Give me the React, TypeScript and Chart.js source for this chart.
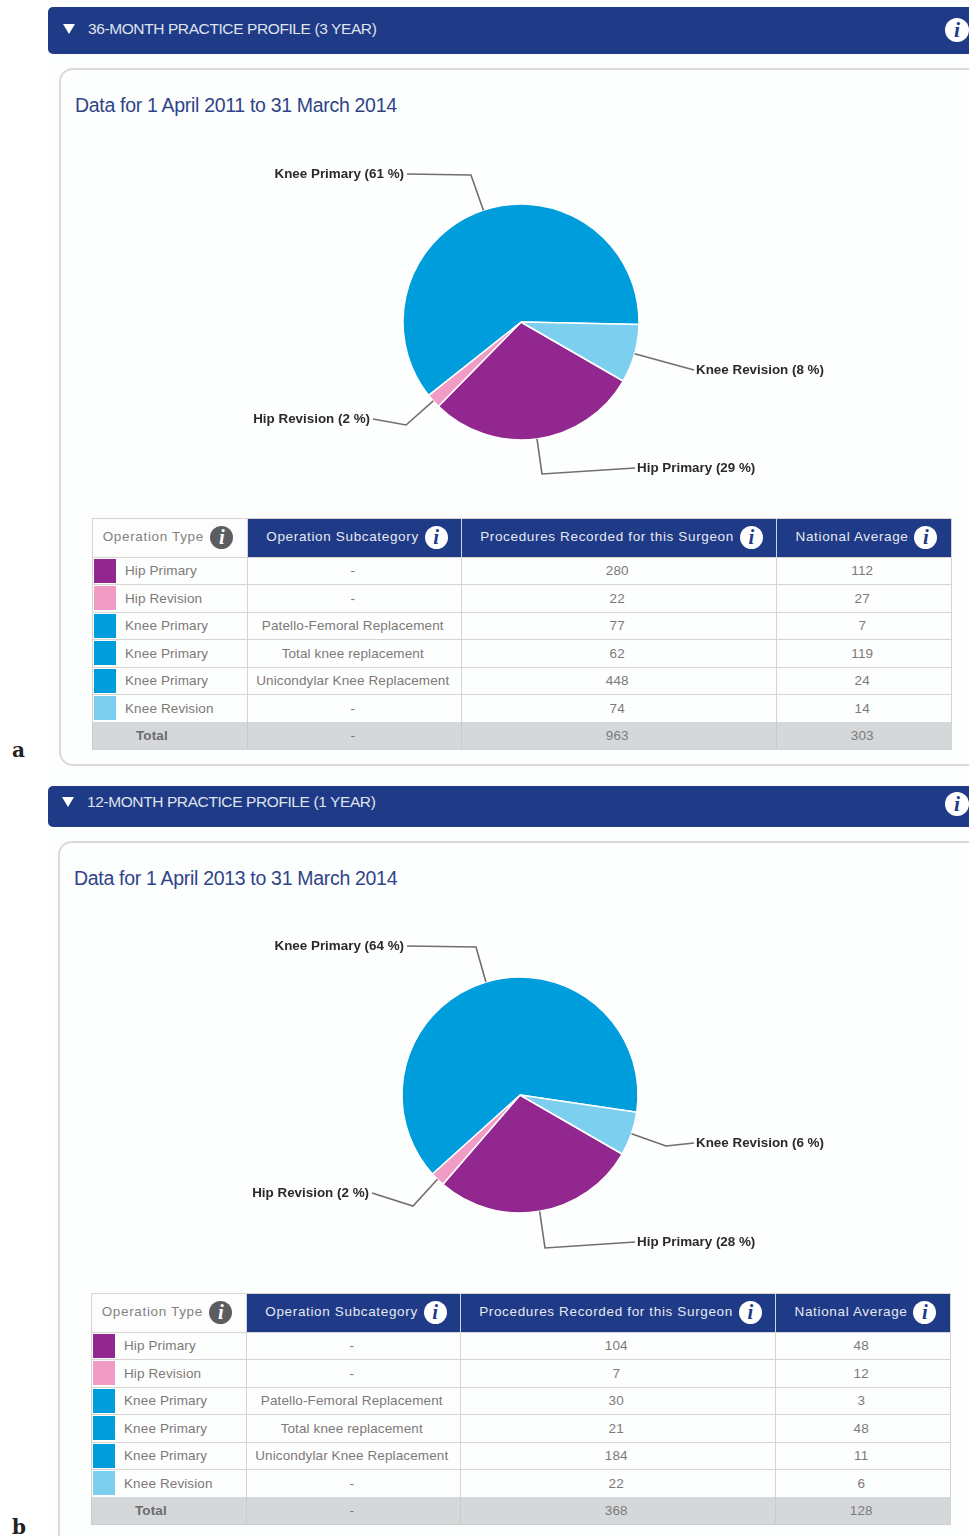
import React, { useEffect, useRef } from "react";
import { Chart, registerables } from "chart.js";

Chart.register(...registerables);

const pieLabels = ["Hip Primary", "Hip Revision", "Knee Primary", "Knee Revision"];
const pieColors = ["#92278f", "#f19cc4", "#009ddc", "#7ccfee"];
const pieValues36 = [29, 2, 61, 8];
const pieValues12 = [28, 2, 64, 6];

const rowTypes = ["Hip Primary", "Hip Revision", "Knee Primary", "Knee Primary", "Knee Primary", "Knee Revision"];
const rowColors = ["#92278f", "#f19cc4", "#009ddc", "#009ddc", "#009ddc", "#7ccfee"];
const rowSubcategories = ["-", "-", "Patello-Femoral Replacement", "Total knee replacement", "Unicondylar Knee Replacement", "-"];
const surgeon36 = [280, 22, 77, 62, 448, 74];
const national36 = [112, 27, 7, 119, 24, 14];
const surgeon12 = [104, 7, 30, 21, 184, 22];
const national12 = [48, 12, 3, 48, 11, 6];
const totals36 = [963, 303];
const totals12 = [368, 128];

const NAVY = "#1f3a86";
const TEXT = "#7d7977";
const LINE = "#d9d4d0";

type Leader = { elbow: [number, number] | null; end: [number, number]; align: "left" | "right" };

const leaders36: Leader[] = [
  { elbow: [21, 152], end: [114, 146], align: "left" },
  { elbow: [-115, 103], end: [-148, 97], align: "right" },
  { elbow: [-50, -147], end: [-114, -148], align: "right" },
  { elbow: null, end: [173, 48], align: "left" },
];
const leaders12: Leader[] = [
  { elbow: [25, 153], end: [115, 147], align: "left" },
  { elbow: [-107, 111], end: [-148, 98], align: "right" },
  { elbow: [-44, -148], end: [-113, -149], align: "right" },
  { elbow: [146, 51], end: [174, 48], align: "left" },
];

function Pie({ values, leaders, left, top }: { values: number[]; leaders: Leader[]; left: number; top: number }) {
  const ref = useRef<HTMLCanvasElement>(null);
  useEffect(() => {
    const leaderPlugin = {
      id: "leaders",
      afterDatasetsDraw(chart: any) {
        const ctx = chart.ctx;
        const arcs = chart.getDatasetMeta(0).data;
        ctx.save();
        arcs.forEach((arc: any, i: number) => {
          const l = leaders[i];
          const mid = (arc.startAngle + arc.endAngle) / 2;
          const cx = arc.x;
          const cy = arc.y;
          ctx.strokeStyle = "#736e6a";
          ctx.lineWidth = 1.6;
          ctx.beginPath();
          ctx.moveTo(cx + Math.cos(mid) * arc.outerRadius, cy + Math.sin(mid) * arc.outerRadius);
          if (l.elbow) ctx.lineTo(cx + l.elbow[0], cy + l.elbow[1]);
          ctx.lineTo(cx + l.end[0], cy + l.end[1]);
          ctx.stroke();
          ctx.fillStyle = "#2a2a2a";
          ctx.font = "bold 13.4px 'Liberation Sans'";
          ctx.textBaseline = "middle";
          ctx.textAlign = l.align;
          const tx = cx + l.end[0] + (l.align === "left" ? 2 : -3);
          ctx.fillText(`${pieLabels[i]} (${values[i]} %)`, tx, cy + l.end[1]);
        });
        ctx.restore();
      },
    };
    const chart = new Chart(ref.current as HTMLCanvasElement, {
      type: "pie",
      data: {
        labels: pieLabels,
        datasets: [
          {
            data: values,
            backgroundColor: pieColors,
            borderColor: "#ffffff",
            borderWidth: 1.5,
            radius: 118,
          },
        ],
      },
      options: {
        responsive: false,
        animation: false,
        rotation: 120,
        layout: { padding: 0 },
        plugins: { legend: { display: false }, tooltip: { enabled: false } },
      },
      plugins: [leaderPlugin],
    } as any);
    return () => chart.destroy();
  }, [values, leaders]);
  return <canvas ref={ref} width={640} height={360} style={{ position: "absolute", left, top, width: 640, height: 360 }} />;
}

function Info({ dark, size = 23, style }: { dark?: boolean; size?: number; style?: React.CSSProperties }) {
  return (
    <span
      style={{
        display: "inline-block",
        width: size,
        height: size,
        lineHeight: `${size}px`,
        borderRadius: "50%",
        background: dark ? "#5b5d60" : "#ffffff",
        color: dark ? "#ffffff" : NAVY,
        fontFamily: "'Liberation Serif'",
        fontWeight: "bold",
        fontStyle: "italic",
        fontSize: size * 0.9,
        letterSpacing: 0,
        textAlign: "center",
        verticalAlign: "middle",
        ...style,
      }}
    >
      i
    </span>
  );
}

const colWidths = [155, 214, 315, 175];

function DataTable({ left, top, surgeon, national, totals }: { left: number; top: number; surgeon: number[]; national: number[]; totals: number[] }) {
  const th: React.CSSProperties = {
    background: NAVY,
    color: "#e6e9f2",
    fontWeight: "normal",
    height: 37.5,
    padding: "0 0 0 5px",
    textAlign: "center",
    borderLeft: "1px solid #cfd4e2",
    whiteSpace: "nowrap",
    letterSpacing: 0.65,
    boxSizing: "border-box",
  };
  const td: React.CSSProperties = {
    height: 27.5,
    padding: "0 3.5px 0 0",
    textAlign: "center",
    borderTop: `1.5px solid ${LINE}`,
    borderLeft: `1.5px solid ${LINE}`,
    whiteSpace: "nowrap",
    boxSizing: "border-box",
  };
  const totalTd: React.CSSProperties = { ...td, background: "#d5d8da", borderLeft: "1px solid #c9cbcd", borderTop: "none" };
  return (
    <table
      style={{
        position: "absolute",
        left,
        top,
        width: 859,
        tableLayout: "fixed",
        borderCollapse: "separate",
        borderSpacing: 0,
        fontFamily: "'Liberation Sans'",
        fontSize: 13.5,
        letterSpacing: 0.12,
        color: TEXT,
        borderTop: `1.5px solid ${LINE}`,
        borderRight: `1.5px solid ${LINE}`,
        borderBottom: `1.5px solid #d0d0d0`,
        boxSizing: "border-box",
      }}
    >
      <colgroup>
        {colWidths.map((w, i) => (
          <col key={i} style={{ width: w }} />
        ))}
      </colgroup>
      <thead>
        <tr>
          <th style={{ ...th, background: "#fdfdfd", color: "#858180", borderLeft: `1.5px solid ${LINE}`, padding: "0 4px 0 0" }}>
            Operation Type <Info dark style={{ marginLeft: 2 }} />
          </th>
          <th style={th}>
            Operation Subcategory <Info style={{ marginLeft: 1.5 }} />
          </th>
          <th style={th}>
            Procedures Recorded for this Surgeon <Info style={{ marginLeft: 1.5 }} />
          </th>
          <th style={th}>
            National Average <Info style={{ marginLeft: 1.5 }} />
          </th>
        </tr>
      </thead>
      <tbody>
        {rowTypes.map((t, i) => (
          <tr key={i}>
            <td style={{ ...td, textAlign: "left", position: "relative", paddingLeft: 32 }}>
              <span style={{ position: "absolute", left: 1, top: 1, width: 22, height: 24, background: rowColors[i] }} />
              {t}
            </td>
            <td style={td}>{rowSubcategories[i]}</td>
            <td style={td}>{surgeon[i]}</td>
            <td style={td}>{national[i]}</td>
          </tr>
        ))}
        <tr>
          <td style={{ ...totalTd, textAlign: "left", paddingLeft: 43, fontWeight: "bold", color: "#6d6b6b" }}>Total</td>
          <td style={totalTd}>-</td>
          <td style={totalTd}>{totals[0]}</td>
          <td style={totalTd}>{totals[1]}</td>
        </tr>
      </tbody>
    </table>
  );
}

function Panel(props: {
  headerTop: number;
  headerH: number;
  headerMid: number;
  iconMid: number;
  textLeft: number;
  left: number;
  cardTop: number;
  cardBottom: number;
  heading: string;
  range: string;
  values: number[];
  leaders: Leader[];
  pieLeft: number;
  pieTop: number;
  tableTop: number;
  surgeon: number[];
  national: number[];
  totals: number[];
  tag: string;
  tagTop: number;
}) {
  const p = props;
  return (
    <>
      <div
        style={{
          position: "absolute",
          left: 48,
          top: p.headerTop,
          width: 921,
          height: p.headerH,
          background: NAVY,
          borderRadius: "5px 0 0 5px",
        }}
      >
        <span style={{ position: "absolute", left: p.textLeft - 25, top: p.headerMid - 5, width: 0, height: 0, borderLeft: "6px solid transparent", borderRight: "6px solid transparent", borderTop: "10px solid #fff" }} />
        <span style={{ position: "absolute", left: p.textLeft, top: p.headerMid - 15, lineHeight: "30px", color: "#dfe3ee", fontFamily: "'Liberation Sans'", fontSize: 15.5, letterSpacing: -0.4, whiteSpace: "nowrap" }}>
          {p.heading}
        </span>
        <Info size={24} style={{ position: "absolute", left: 897, top: p.iconMid - 12 }} />
      </div>
      <div
        style={{
          position: "absolute",
          left: p.left + 11,
          top: p.cardTop,
          width: 1000,
          height: p.cardBottom - p.cardTop,
          boxSizing: "border-box",
          border: "2px solid #dcdad6",
          borderRadius: 14,
          background: "#fdfefe",
        }}
      />
      <div style={{ position: "absolute", left: p.left + 27, top: p.cardTop + 24, color: "#2f4488", fontFamily: "'Liberation Sans'", fontSize: 19.5, letterSpacing: -0.31, whiteSpace: "nowrap", lineHeight: "26px" }}>
        {p.range}
      </div>
      <Pie values={p.values} leaders={p.leaders} left={p.pieLeft} top={p.pieTop} />
      <DataTable left={p.left + 44} top={p.tableTop} surgeon={p.surgeon} national={p.national} totals={p.totals} />
      <div style={{ position: "absolute", left: 12, top: p.tagTop, fontFamily: "'DejaVu Serif'", fontWeight: "bold", fontSize: 20, color: "#222", lineHeight: "24px" }}>{p.tag}</div>
    </>
  );
}

export default function App() {
  return (
    <div style={{ position: "absolute", left: 0, top: 0, width: 969, height: 1536, overflow: "hidden", background: "#ffffff" }}>
      <div style={{ position: "absolute", left: 48, top: 0, width: 921, height: 1536, background: "#fcfdfd" }} />
      <Panel
        headerTop={7}
        headerH={47}
        headerMid={22}
        iconMid={23}
        textLeft={40}
        left={48}
        cardTop={68}
        cardBottom={766}
        heading="36-MONTH PRACTICE PROFILE (3 YEAR)"
        range="Data for 1 April 2011 to 31 March 2014"
        values={pieValues36}
        leaders={leaders36}
        pieLeft={201}
        pieTop={141.5}
        tableTop={518}
        surgeon={surgeon36}
        national={national36}
        totals={totals36}
        tag="a"
        tagTop={738}
      />
      <Panel
        headerTop={786}
        headerH={41}
        headerMid={16}
        iconMid={18}
        textLeft={39}
        left={47}
        cardTop={841}
        cardBottom={1600}
        heading="12-MONTH PRACTICE PROFILE (1 YEAR)"
        range="Data for 1 April 2013 to 31 March 2014"
        values={pieValues12}
        leaders={leaders12}
        pieLeft={200}
        pieTop={915}
        tableTop={1293}
        surgeon={surgeon12}
        national={national12}
        totals={totals12}
        tag="b"
        tagTop={1515}
      />
    </div>
  );
}
